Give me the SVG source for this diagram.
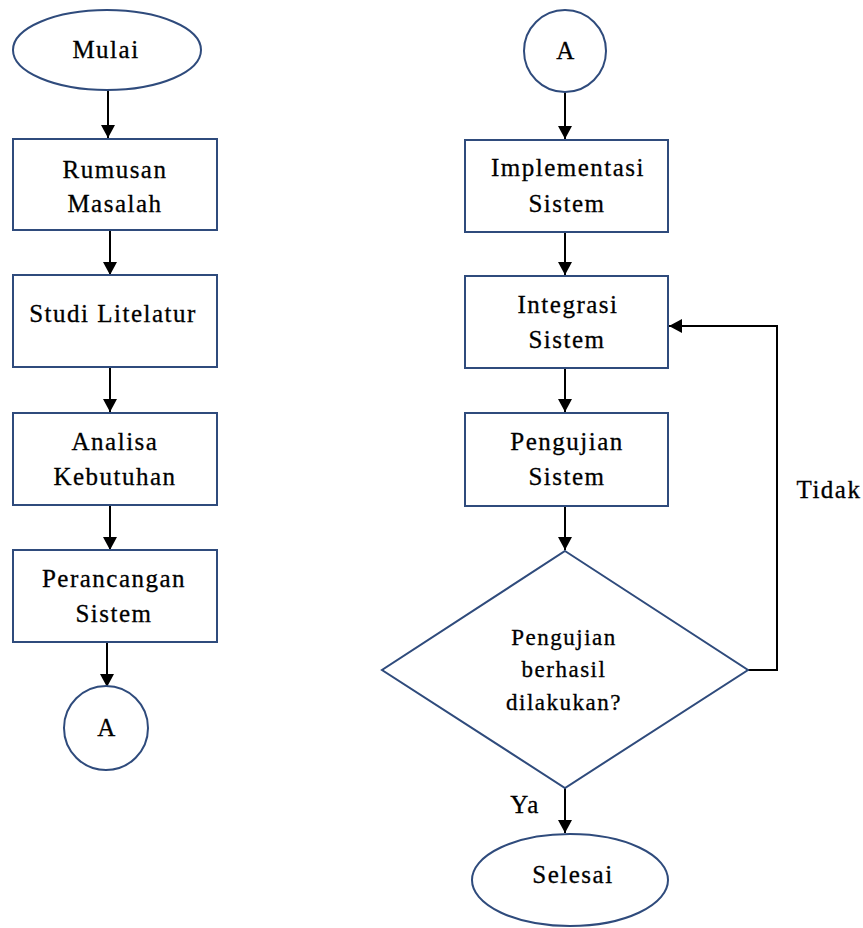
<svg xmlns="http://www.w3.org/2000/svg" width="863" height="928" viewBox="0 0 863 928">
<style>
.shape{fill:#fff;stroke:#2F4B7C;stroke-width:2}
.conn{fill:none;stroke:#000;stroke-width:2}
.t{font-family:"Liberation Serif","Times New Roman",serif;font-size:25px;fill:#000;stroke:#000;stroke-width:0.3;text-anchor:middle;letter-spacing:1.5px}
.small{font-size:23px}
</style>
<defs>
<marker id="arr" markerUnits="userSpaceOnUse" markerWidth="16" markerHeight="16" viewBox="0 0 16 16" refX="14" refY="8" orient="auto">
<path d="M1,1 L14,8 L1,15 Z" fill="#000"/>
</marker>
</defs>
<g id="connectors">
<path class="conn" d="M108,90 V138" marker-end="url(#arr)"/>
<path class="conn" d="M110,230 V275" marker-end="url(#arr)"/>
<path class="conn" d="M110,367 V412" marker-end="url(#arr)"/>
<path class="conn" d="M110,505 V550" marker-end="url(#arr)"/>
<path class="conn" d="M107,642 V687" marker-end="url(#arr)"/>
<path class="conn" d="M565,92 V139" marker-end="url(#arr)"/>
<path class="conn" d="M565,232 V275" marker-end="url(#arr)"/>
<path class="conn" d="M565,368 V412" marker-end="url(#arr)"/>
<path class="conn" d="M565,506 V550" marker-end="url(#arr)"/>
<path class="conn" d="M748,670 H777 V326 H669" marker-end="url(#arr)"/>
<path class="conn" d="M565,788 V833" marker-end="url(#arr)"/>
<text class="t" x="829" y="498">Tidak</text>
<text class="t" x="525" y="813">Ya</text>
</g>
<g id="mulai">
<ellipse class="shape" cx="107" cy="50" rx="94" ry="40"/>
<text class="t" x="106" y="58">Mulai</text>
</g>
<g id="rumusan">
<rect class="shape" x="13" y="139" width="204" height="91"/>
<text class="t" x="115" y="178">Rumusan</text>
<text class="t" x="115" y="212">Masalah</text>
</g>
<g id="studi">
<rect class="shape" x="13" y="275" width="204" height="92"/>
<text class="t" x="113" y="322">Studi Litelatur</text>
</g>
<g id="analisa">
<rect class="shape" x="13" y="413" width="204" height="92"/>
<text class="t" x="115" y="450">Analisa</text>
<text class="t" x="115" y="485">Kebutuhan</text>
</g>
<g id="perancangan">
<rect class="shape" x="13" y="550" width="204" height="92"/>
<text class="t" x="114" y="587">Perancangan</text>
<text class="t" x="114" y="622">Sistem</text>
</g>
<g id="a-out">
<circle class="shape" cx="106" cy="728" r="42"/>
<text class="t" x="107" y="736">A</text>
</g>
<g id="a-in">
<circle class="shape" cx="565" cy="51" r="41"/>
<text class="t" x="566" y="59">A</text>
</g>
<g id="implementasi">
<rect class="shape" x="465" y="140" width="203" height="92"/>
<text class="t" x="568" y="176">Implementasi</text>
<text class="t" x="567" y="212">Sistem</text>
</g>
<g id="integrasi">
<rect class="shape" x="465" y="276" width="203" height="92"/>
<text class="t" x="568" y="313">Integrasi</text>
<text class="t" x="567" y="348">Sistem</text>
</g>
<g id="pengujian">
<rect class="shape" x="465" y="413" width="203" height="93"/>
<text class="t" x="567" y="450">Pengujian</text>
<text class="t" x="567" y="485">Sistem</text>
</g>
<g id="keputusan">
<polygon class="shape" points="565,551 748,670 565,788 382,670"/>
<text class="t small" x="564" y="645">Pengujian</text>
<text class="t small" x="564" y="677">berhasil</text>
<text class="t small" x="564" y="710">dilakukan?</text>
</g>
<g id="selesai">
<ellipse class="shape" cx="570" cy="880" rx="98" ry="46"/>
<text class="t" x="573" y="883">Selesai</text>
</g>
</svg>
